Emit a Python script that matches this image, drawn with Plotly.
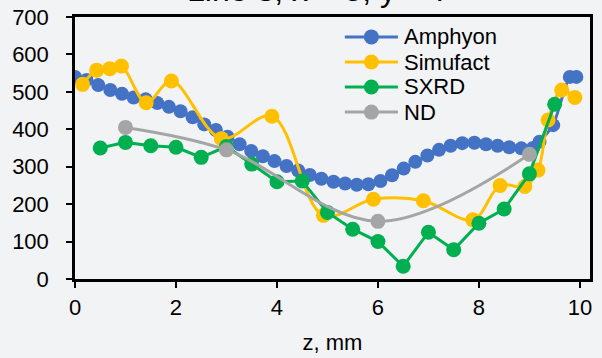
import plotly.graph_objects as go

# ---- data ----
amphyon_z = [0.00, 0.23, 0.46, 0.70, 0.93, 1.16, 1.40, 1.63, 1.86, 2.09, 2.33, 2.56, 2.79,
             3.02, 3.26, 3.49, 3.72, 3.95, 4.19, 4.42, 4.65, 4.88, 5.12, 5.35, 5.58, 5.81,
             6.05, 6.28, 6.51, 6.74, 6.98, 7.21, 7.44, 7.67, 7.91, 8.14, 8.37, 8.60, 8.84,
             9.07, 9.20, 9.47, 9.80, 9.93]
amphyon_s = [540, 532, 518, 505, 495, 485, 480, 470, 460, 448, 432, 413, 398,
             380, 360, 342, 328, 315, 302, 290, 278, 268, 260, 255, 252, 253,
             262, 277, 295, 313, 330, 345, 356, 363, 364, 360, 356, 352, 349,
             350, 367, 411, 540, 540]

simufact_z = [0.15, 0.43, 0.69, 0.92, 1.41, 1.91, 2.90, 3.90, 4.92, 5.91, 6.90, 7.88,
              8.42, 8.91, 9.17, 9.37, 9.64, 9.90]
simufact_s = [520, 558, 562, 569, 471, 529, 375, 435, 170, 213, 209, 158,
              250, 247, 291, 425, 505, 485]

sxrd_z = [0.5, 1.0, 1.5, 2.0, 2.5, 3.0, 3.5, 4.0, 4.5, 5.0, 5.5, 6.0, 6.5, 7.0, 7.5,
          8.0, 8.5, 9.0, 9.5]
sxrd_s = [350, 365, 356, 352, 325, 354, 307, 260, 262, 178, 133, 100, 34, 125, 78,
          149, 187, 281, 467]

nd_z = [1.0, 3.0, 6.0, 9.0]
nd_s = [405, 345, 154, 333]

series_names = ["Amphyon", "Simufact", "SXRD", "ND"]
series_colors = ["#4472C4", "#FFC000", "#00B050", "#A5A5A5"]

x_ticks = [0, 2, 4, 6, 8, 10]
y_ticks = [0, 100, 200, 300, 400, 500, 600, 700]

title_text = "Line 3, x = 5, y = 7"

BG = "#f2f3f5"
FONT = "Liberation Sans, Arial, sans-serif"

fig = go.Figure()
specs = [
    (amphyon_z, amphyon_s, dict(shape="spline", smoothing=0.6), 14),
    (simufact_z, simufact_s, dict(shape="spline", smoothing=1), 15),
    (sxrd_z, sxrd_s, dict(shape="linear"), 15),
    (nd_z, nd_s, dict(shape="spline", smoothing=1), 15),
]
for (xs, ys, ls, msize), name, col in zip(specs, series_names, series_colors):
    fig.add_trace(go.Scatter(x=xs, y=ys, name=name, mode="lines+markers",
                             line=dict(color=col, width=3, **ls),
                             marker=dict(color=col, size=msize),
                             showlegend=False))

# custom legend (Excel-like: long line with centred marker, tight rows)
leg_x0, leg_x1, leg_text_x = 0.524, 0.627, 0.637
leg_rows = [0.924, 0.828, 0.733, 0.637]
for name, col, ry in zip(series_names, series_colors, leg_rows):
    fig.add_shape(type="line", xref="paper", yref="paper", x0=leg_x0, x1=leg_x1,
                  y0=ry, y1=ry, line=dict(color=col, width=3))
    xm = (leg_x0 + leg_x1) / 2
    fig.add_shape(type="circle", xref="paper", yref="paper",
                  xsizemode="pixel", ysizemode="pixel", xanchor=xm, yanchor=ry,
                  x0=-7.5, x1=7.5, y0=-7.5, y1=7.5,
                  fillcolor=col, line=dict(color=col, width=0))
    fig.add_annotation(text=name, xref="paper", yref="paper", x=leg_text_x, y=ry,
                       xanchor="left", yanchor="middle", showarrow=False,
                       borderpad=0,
                       font=dict(family=FONT, size=22, color="black"))

fig.add_annotation(text=title_text, xref="paper", yref="paper",
                   x=0.472, y=1.0285, xanchor="center", yanchor="bottom",
                   showarrow=False, font=dict(family=FONT, size=32, color="black"))

fig.update_layout(
    width=602, height=358,
    margin=dict(l=75, r=12, t=17, b=79),
    paper_bgcolor=BG, plot_bgcolor=BG,
    font=dict(family=FONT, size=22, color="black"),
    showlegend=False,
    xaxis=dict(range=[0, 10.2], tickvals=x_ticks, showgrid=False, zeroline=False,
               showline=True, linecolor="black", linewidth=2.5, mirror=True,
               ticks="outside", ticklen=6, tickwidth=2, tickcolor="black",
               ticklabelstandoff=1, automargin=False,
               title=dict(text="z, mm", standoff=16, font=dict(size=22))),
    yaxis=dict(range=[0, 700], tickvals=y_ticks, showgrid=False, zeroline=False,
               showline=True, linecolor="black", linewidth=2.5, mirror=True,
               ticks="outside", ticklen=6, tickwidth=2, tickcolor="black",
               ticklabelstandoff=13, automargin=False),
)

fig.write_html("out.html")
